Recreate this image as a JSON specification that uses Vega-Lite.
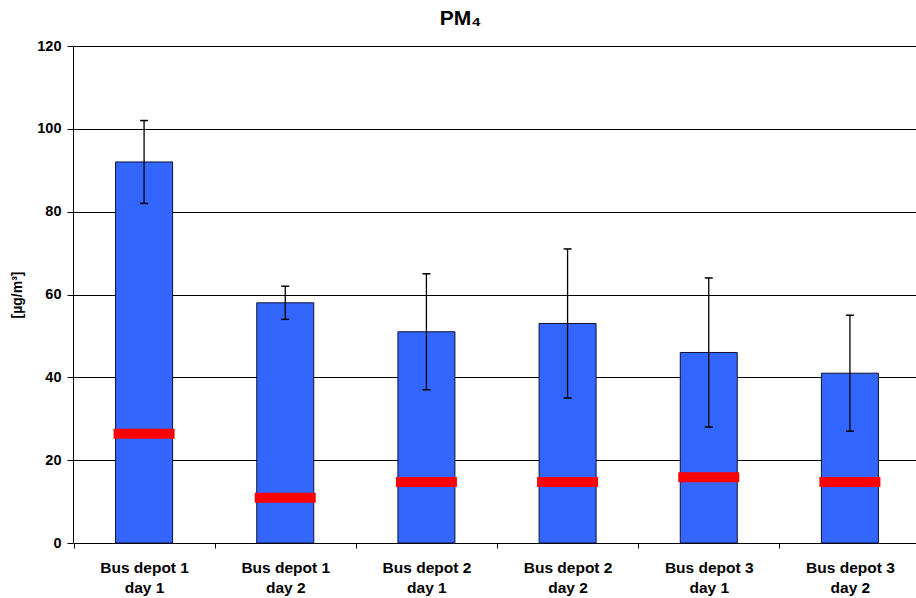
{
  "$schema": "https://vega.github.io/schema/vega-lite/v6.json",
  "width": 843,
  "height": 497,
  "autosize": {"type": "none"},
  "padding": {"left": 73, "top": 46, "right": 0, "bottom": 55},
  "background": "white",
  "config": {
    "view": {"stroke": null},
    "font": "Liberation Sans"
  },
  "title": {
    "text": "PM₄",
    "fontSize": 21,
    "fontWeight": "bold",
    "font": "Liberation Sans",
    "color": "black",
    "anchor": "middle",
    "dx": -34,
    "offset": 9
  },
  "data": {
    "values": [
      {"site": "Bus depot 1 day 1", "mean": 92, "low": 82, "high": 102, "median": 26.4},
      {"site": "Bus depot 1 day 2", "mean": 58, "low": 54, "high": 62, "median": 10.9},
      {"site": "Bus depot 2 day 1", "mean": 51, "low": 37, "high": 65, "median": 14.7},
      {"site": "Bus depot 2 day 2", "mean": 53, "low": 35, "high": 71, "median": 14.7},
      {"site": "Bus depot 3 day 1", "mean": 46, "low": 28, "high": 64, "median": 15.9},
      {"site": "Bus depot 3 day 2", "mean": 41, "low": 27, "high": 55, "median": 14.7}
    ]
  },
  "encoding": {
    "x": {
      "field": "site",
      "type": "nominal",
      "sort": null,
      "scale": {"paddingInner": 0, "paddingOuter": 0, "range": [0.5, 847.5]},
      "axis": {
        "title": null,
        "labelAngle": 0,
        "labelExpr": "[slice(datum.label,0,11), slice(datum.label,12)]",
        "labelFont": "Liberation Sans",
        "labelFontSize": 15.5,
        "labelFontWeight": "bold",
        "labelColor": "black",
        "labelPadding": 12,
        "labelLineHeight": 20,
        "tickBand": "extent",
        "tickColor": "black",
        "tickSize": 5,
        "domainColor": "black",
        "grid": false
      }
    }
  },
  "layer": [
    {
      "mark": {"type": "bar", "width": 57, "color": "#3366FF", "stroke": "#101030", "strokeWidth": 1},
      "encoding": {
        "y": {
          "field": "mean",
          "type": "quantitative",
          "scale": {"domain": [0, 120]},
          "axis": {
            "title": "[µg/m³]",
            "titleFont": "Liberation Sans",
            "titleFontSize": 14,
            "titleFontWeight": "bold",
            "titleColor": "black",
            "titlePadding": 12,
            "values": [0, 20, 40, 60, 80, 100, 120],
            "labelFont": "Liberation Sans",
            "labelFontSize": 14.5,
            "labelFontWeight": "bold",
            "labelColor": "black",
            "labelPadding": 6,
            "tickColor": "black",
            "tickSize": 6,
            "domainColor": "black",
            "grid": true,
            "gridColor": "black",
            "gridOpacity": 1,
            "gridWidth": 1
          }
        }
      }
    },
    {
      "mark": {"type": "rule", "color": "black", "strokeWidth": 1.3},
      "encoding": {
        "y": {"field": "low", "type": "quantitative"},
        "y2": {"field": "high"}
      }
    },
    {
      "mark": {"type": "tick", "color": "black", "opacity": 1, "size": 8, "thickness": 1.5},
      "encoding": {"y": {"field": "low", "type": "quantitative"}}
    },
    {
      "mark": {"type": "tick", "color": "black", "opacity": 1, "size": 8, "thickness": 1.5},
      "encoding": {"y": {"field": "high", "type": "quantitative"}}
    },
    {
      "mark": {"type": "tick", "color": "#FF0000", "opacity": 1, "size": 61, "thickness": 10},
      "encoding": {"y": {"field": "median", "type": "quantitative"}}
    }
  ]
}
